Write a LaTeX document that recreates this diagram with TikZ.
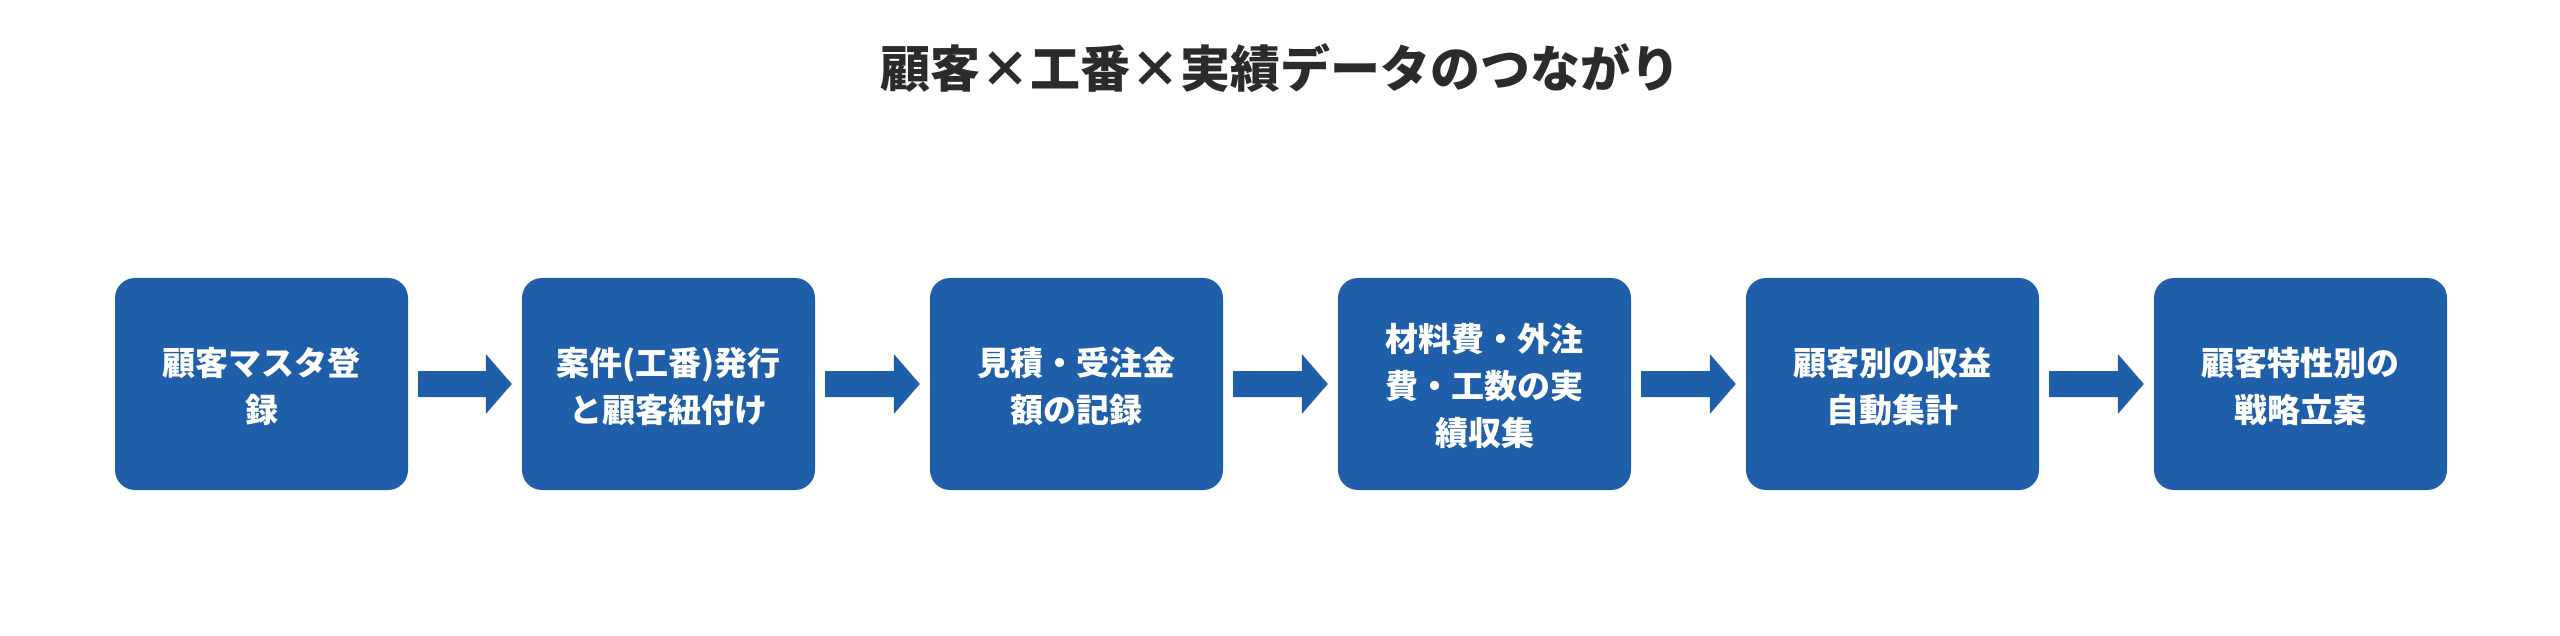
\documentclass[tikz,border=0pt]{standalone}
\usepackage{fontspec}
\setmainfont{Noto Sans CJK JP}
\begin{document}
\begin{tikzpicture}[x=1pt,y=-1pt,
  box/.style={fill=boxblue,rounded corners=20pt,minimum width=293pt,minimum height=212pt,inner sep=0pt,text=white,font=\fontsize{33}{47}\selectfont\bfseries,align=center},
  arr/.style={fill=boxblue}]
\definecolor{boxblue}{HTML}{1F5FAA}
\definecolor{titlec}{HTML}{2B2B2B}
\useasboundingbox (0,0) rectangle (2560,636);
\node[font=\fontsize{50}{60}\selectfont\bfseries,text=titlec] (title) at (1280,68) {顧客×工番×実績データのつながり};
\foreach \i/\x/\t in {1/261.5/{顧客マスタ登\\録},2/668.5/{案件(工番)発行\\と顧客紐付け},3/1076.5/{見積・受注金\\額の記録},4/1484.5/{材料費・外注\\費・工数の実\\績収集},5/1892.5/{顧客別の収益\\自動集計},6/2300.5/{顧客特性別の\\戦略立案}}{
  \node[box] (b\i) at (\x,384) {\strut\t};
}
\foreach \a/\b in {b1/b2,b2/b3,b3/b4,b4/b5,b5/b6}{
  \fill[arr] ([xshift=10pt,yshift=-13pt]\a.east) -- ([xshift=-36pt,yshift=-13pt]\b.west) -- ([xshift=-36pt,yshift=-30pt]\b.west) -- ([xshift=-10pt]\b.west) -- ([xshift=-36pt,yshift=30pt]\b.west) -- ([xshift=-36pt,yshift=13pt]\b.west) -- ([xshift=10pt,yshift=13pt]\a.east) -- cycle;
}
\end{tikzpicture}
\end{document}
